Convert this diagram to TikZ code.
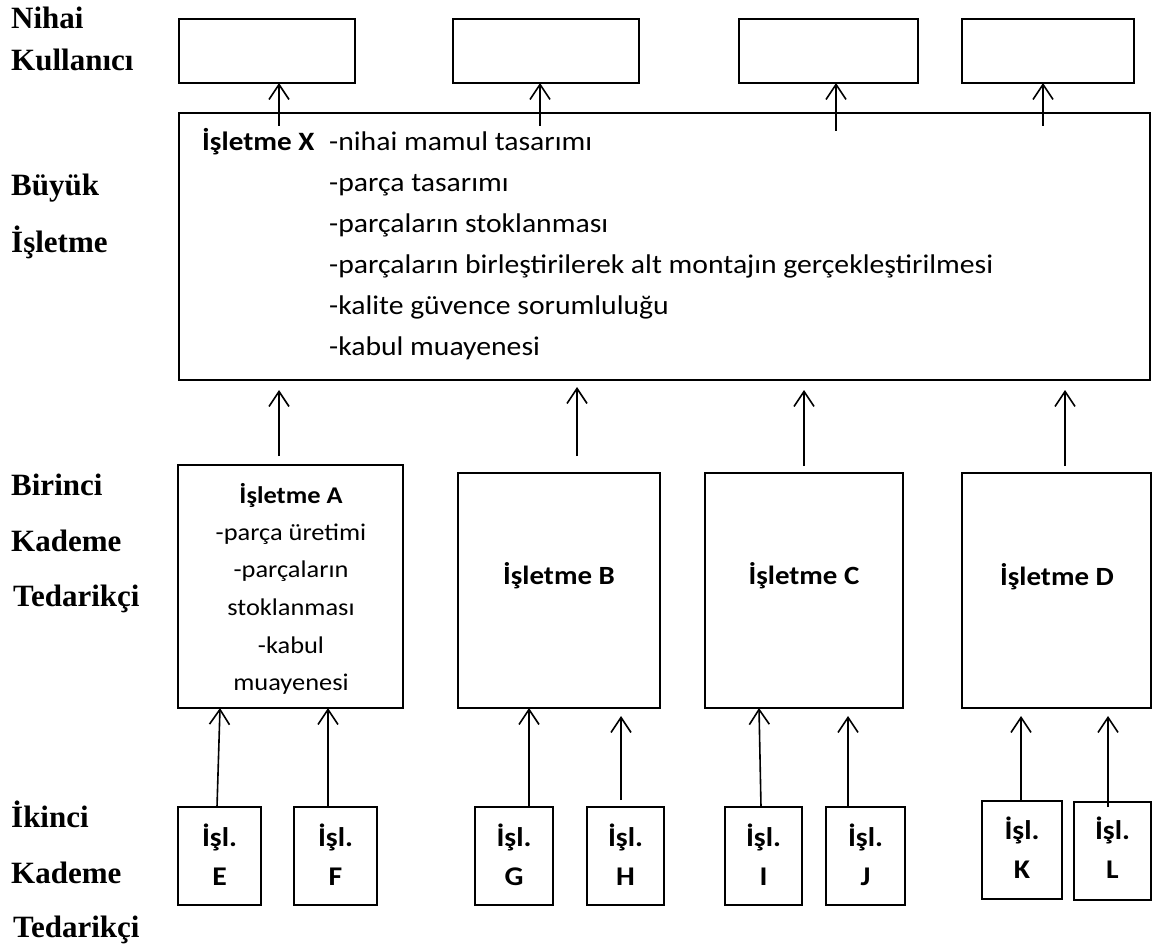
\documentclass[tikz,border=0pt]{standalone}
\usepackage{fontspec}
\setmainfont{Carlito}
\newfontfamily\cwide{Carlito}[FakeStretch=1.1]
\newfontfamily\labfont{Liberation Serif}
\usetikzlibrary{arrows.meta}
\begin{document}
\begin{tikzpicture}[x=1pt,y=-1pt,
  box/.style={draw, line width=2.6pt, inner sep=0pt, outer sep=0pt},
  arr/.style={line width=1.6pt, -{Straight Barb[length=15pt,width=20pt,line width=1.6pt]}},
  lab/.style={anchor=base west, inner sep=0pt, font=\fontsize{31}{31}\selectfont\labfont\bfseries},
  xtxt/.style={anchor=base west, inner sep=0pt, font=\fontsize{27}{28}\selectfont\cwide},
  atxt/.style={anchor=base, inner sep=0pt, font=\fontsize{24}{25}\selectfont\cwide},
  bctxt/.style={anchor=base, inner sep=0pt, font=\fontsize{26.3}{27}\selectfont\cwide\bfseries},
  stxt/.style={anchor=base, inner sep=0pt, font=\fontsize{27}{28}\selectfont\cwide\bfseries}
]
\useasboundingbox[fill=white] (0,0) rectangle (1153,947);

% left labels
\node[lab] (l1) at (11,29) {Nihai};
\node[lab] (l2) at (11,71) {Kullanıcı};
\node[lab] (l3) at (11,195) {Büyük};
\node[lab] (l4) at (11,252) {İşletme};
\node[lab] (l5) at (11,495) {Birinci};
\node[lab] (l6) at (11,551) {Kademe};
\node[lab] (l7) at (13,606) {Tedarikçi};
\node[lab] (l8) at (11,827) {İkinci};
\node[lab] (l9) at (11,883) {Kademe};
\node[lab] (l10) at (13,937) {Tedarikçi};

% top boxes
\node[box, minimum width=176pt, minimum height=64pt] (u1) at (267,51) {};
\node[box, minimum width=186pt, minimum height=64pt] (u2) at (546,51) {};
\node[box, minimum width=179pt, minimum height=64pt] (u3) at (828.5,51) {};
\node[box, minimum width=172pt, minimum height=64pt] (u4) at (1048,51) {};

% main box X
\node[box, minimum width=971pt, minimum height=267pt] (x) at (664.5,246.5) {};
\node[xtxt, font=\fontsize{26.5}{28}\selectfont\cwide\bfseries] (xt) at (202,150) {İşletme X};
\node[xtxt] (x1) at (329,150) {-nihai mamul tasarımı};
\node[xtxt] (x2) at (329,191) {-parça tasarımı};
\node[xtxt] (x3) at (329,232) {-parçaların stoklanması};
\node[xtxt] (x4) at (329,273) {-parçaların birleştirilerek alt montajın gerçekleştirilmesi};
\node[xtxt] (x5) at (329,314) {-kalite güvence sorumluluğu};
\node[xtxt] (x6) at (329,355) {-kabul muayenesi};

% first tier boxes
\node[box, minimum width=225pt, minimum height=243pt] (a) at (290.5,586.5) {};
\node[box, minimum width=202pt, minimum height=235pt] (b) at (559,590.5) {};
\node[box, minimum width=198pt, minimum height=235pt] (c) at (804,590.5) {};
\node[box, minimum width=189pt, minimum height=235pt] (d) at (1056.5,590.5) {};
\node[atxt, font=\fontsize{24}{25}\selectfont\cwide\bfseries] (at) at (291,503) {İşletme A};
\node[atxt] (a1) at (291,540) {-parça üretimi};
\node[atxt] (a2) at (291,577) {-parçaların};
\node[atxt] (a3) at (291,615) {stoklanması};
\node[atxt] (a4) at (291,653) {-kabul};
\node[atxt] (a5) at (291,690) {muayenesi};
\node[bctxt] (bt) at (559,584) {İşletme B};
\node[bctxt] (ct) at (804,584) {İşletme C};
\node[bctxt] (dt) at (1057,585) {İşletme D};

% second tier boxes
\node[box, minimum width=83pt, minimum height=98pt] (e) at (219.5,856) {};
\node[box, minimum width=83pt, minimum height=98pt] (f) at (335.5,856) {};
\node[box, minimum width=78pt, minimum height=98pt] (g) at (514,856) {};
\node[box, minimum width=77pt, minimum height=98pt] (h) at (625.5,856) {};
\node[box, minimum width=77pt, minimum height=98pt] (i) at (763.5,856) {};
\node[box, minimum width=79pt, minimum height=98pt] (j) at (865.5,856) {};
\node[box, minimum width=80pt, minimum height=98pt] (k) at (1022,850) {};
\node[box, minimum width=77pt, minimum height=98pt] (l) at (1112.5,851) {};
\foreach \n/\xx/\yy/\ch in {e/219.5/0/E, f/335.5/0/F, g/514/0/G, h/625.5/0/H, i/763.5/0/I, j/865.5/0/J, k/1022/-7/K, l/1112.5/-7/L}{
  \node[stxt] (\n t1) at (\xx,846+\yy) {İşl.};
  \node[stxt] (\n t2) at (\xx,885+\yy) {\ch};
}

% arrows X -> end users
\coordinate (s1) at (279,126);
\coordinate (s2) at (540,126);
\coordinate (s3) at (836,131);
\coordinate (s4) at (1043,126);
\draw[arr] (s1) -- (s1 |- u1.south);
\draw[arr] (s2) -- (s2 |- u2.south);
\draw[arr] (s3) -- (s3 |- u3.south);
\draw[arr] (s4) -- (s4 |- u4.south);

% arrows first tier -> X
\coordinate (ma) at (279,456);  \coordinate (ta) at (279,390);
\coordinate (mb) at (577,456);  \coordinate (tb) at (577,387);
\coordinate (mc) at (804,466);  \coordinate (tc) at (804,390);
\coordinate (md) at (1065,466); \coordinate (td) at (1065,390);
\draw[arr] (ma) -- (ta);
\draw[arr] (mb) -- (tb);
\draw[arr] (mc) -- (tc);
\draw[arr] (md) -- (td);

% arrows second tier -> first tier
\draw[arr] (e.north -| 217,0) -- (a.south -| 220,0);
\draw[arr] (f.north -| 328,0) -- (a.south -| 328,0);
\draw[arr] (g.north -| 529,0) -- (b.south -| 529,0);
\coordinate (hs) at (621,800); \coordinate (he) at (621,716);
\draw[arr] (hs) -- (he);
\draw[arr] (i.north -| 761,0) -- (c.south -| 759,0);
\coordinate (je) at (848,716);
\draw[arr] (j.north -| je) -- (je);
\coordinate (ke) at (1021,716);
\draw[arr] (k.north -| ke) -- (ke);
\coordinate (ls) at (1108,807); \coordinate (le) at (1108,716);
\draw[arr] (ls) -- (le);
\end{tikzpicture}
\end{document}
